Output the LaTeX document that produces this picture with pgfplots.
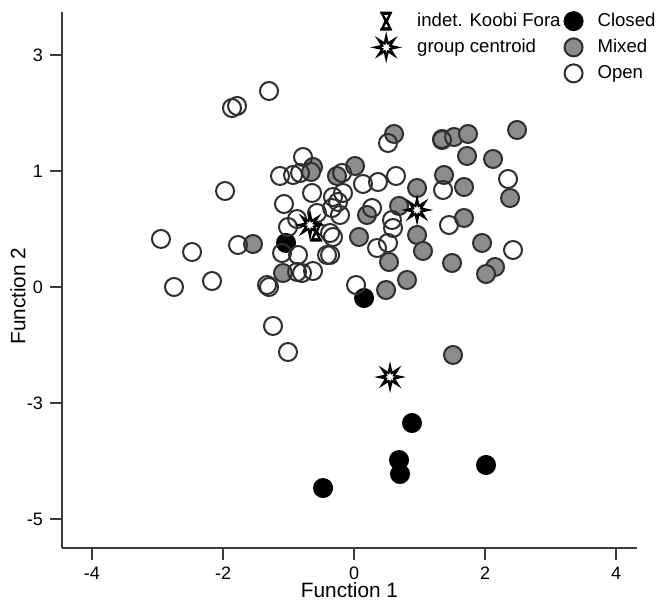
\documentclass[border=0pt]{standalone}
\usepackage{pgfplots}
\pgfplotsset{compat=1.18}
\usepackage{fontspec}
\setmainfont{Liberation Sans}
\definecolor{axisgray}{HTML}{3C3C3C}
\definecolor{mixgray}{HTML}{8C8C8C}
\definecolor{edgegray}{HTML}{2E2E2E}
\pgfdeclareplotmark{burst}{%
  \pgfpathmoveto{\pgfpointpolar{90}{8pt}}%
  \pgfpathlineto{\pgfpointpolar{112.5}{3pt}}%
  \pgfpathlineto{\pgfpointpolar{135}{8pt}}%
  \pgfpathlineto{\pgfpointpolar{157.5}{3pt}}%
  \pgfpathlineto{\pgfpointpolar{180}{8pt}}%
  \pgfpathlineto{\pgfpointpolar{202.5}{3pt}}%
  \pgfpathlineto{\pgfpointpolar{225}{8pt}}%
  \pgfpathlineto{\pgfpointpolar{247.5}{3pt}}%
  \pgfpathlineto{\pgfpointpolar{270}{8pt}}%
  \pgfpathlineto{\pgfpointpolar{292.5}{3pt}}%
  \pgfpathlineto{\pgfpointpolar{315}{8pt}}%
  \pgfpathlineto{\pgfpointpolar{337.5}{3pt}}%
  \pgfpathlineto{\pgfpointpolar{0}{8pt}}%
  \pgfpathlineto{\pgfpointpolar{22.5}{3pt}}%
  \pgfpathlineto{\pgfpointpolar{45}{8pt}}%
  \pgfpathlineto{\pgfpointpolar{67.5}{3pt}}%
  \pgfpathclose
  \pgfsetfillcolor{black}\pgfusepathqfill
  \pgfpathmoveto{\pgfpointpolar{90}{2.4pt}}%
  \pgfpathlineto{\pgfpointpolar{112.5}{1.2pt}}%
  \pgfpathlineto{\pgfpointpolar{135}{2.4pt}}%
  \pgfpathlineto{\pgfpointpolar{157.5}{1.2pt}}%
  \pgfpathlineto{\pgfpointpolar{180}{2.4pt}}%
  \pgfpathlineto{\pgfpointpolar{202.5}{1.2pt}}%
  \pgfpathlineto{\pgfpointpolar{225}{2.4pt}}%
  \pgfpathlineto{\pgfpointpolar{247.5}{1.2pt}}%
  \pgfpathlineto{\pgfpointpolar{270}{2.4pt}}%
  \pgfpathlineto{\pgfpointpolar{292.5}{1.2pt}}%
  \pgfpathlineto{\pgfpointpolar{315}{2.4pt}}%
  \pgfpathlineto{\pgfpointpolar{337.5}{1.2pt}}%
  \pgfpathlineto{\pgfpointpolar{0}{2.4pt}}%
  \pgfpathlineto{\pgfpointpolar{22.5}{1.2pt}}%
  \pgfpathlineto{\pgfpointpolar{45}{2.4pt}}%
  \pgfpathlineto{\pgfpointpolar{67.5}{1.2pt}}%
  \pgfpathclose
  \pgfsetfillcolor{white}\pgfusepathqfill
}
\pgfdeclareplotmark{hourglass}{%
  \pgfpathmoveto{\pgfpoint{-3pt}{4.8pt}}%
  \pgfpathlineto{\pgfpoint{3pt}{4.8pt}}%
  \pgfpathlineto{\pgfpoint{3pt}{3.7pt}}%
  \pgfpathlineto{\pgfpoint{2.6pt}{3.7pt}}%
  \pgfpathlineto{\pgfpoint{0.9pt}{0pt}}%
  \pgfpathlineto{\pgfpoint{2.6pt}{-3.7pt}}%
  \pgfpathlineto{\pgfpoint{3pt}{-3.7pt}}%
  \pgfpathlineto{\pgfpoint{3pt}{-4.8pt}}%
  \pgfpathlineto{\pgfpoint{-3pt}{-4.8pt}}%
  \pgfpathlineto{\pgfpoint{-3pt}{-3.7pt}}%
  \pgfpathlineto{\pgfpoint{-2.6pt}{-3.7pt}}%
  \pgfpathlineto{\pgfpoint{-0.9pt}{0pt}}%
  \pgfpathlineto{\pgfpoint{-2.6pt}{3.7pt}}%
  \pgfpathlineto{\pgfpoint{-3pt}{3.7pt}}%
  \pgfpathclose
  \pgfsetfillcolor{black}\pgfusepathqfill
  \pgfpathmoveto{\pgfpoint{-1.0pt}{3.0pt}}%
  \pgfpathlineto{\pgfpoint{1.0pt}{3.0pt}}%
  \pgfpathlineto{\pgfpoint{0pt}{1.3pt}}%
  \pgfpathclose
  \pgfpathmoveto{\pgfpoint{-1.0pt}{-3.0pt}}%
  \pgfpathlineto{\pgfpoint{1.0pt}{-3.0pt}}%
  \pgfpathlineto{\pgfpoint{0pt}{-1.3pt}}%
  \pgfpathclose
  \pgfsetfillcolor{white}\pgfusepathqfill
}
\begin{document}
\begin{tikzpicture}
\begin{axis}[
  scale only axis, width=287.5pt, height=268pt,
  xmin=-4.458, xmax=4.32, ymin=-5.5, ymax=3.741,
  axis x line*=bottom, axis y line*=left,
  axis line style={line width=1pt, color=axisgray, -},
  xtick={-4,-2,0,2,4}, xticklabels={-4,-2,0,2,4},
  ytick={3,1,-1,-3,-5}, yticklabels={3,1,0,-3,-5},
  tick align=outside, major tick length=6pt,
  tick style={line width=1pt, color=axisgray},
  tick label style={font=\fontsize{9}{10}\selectfont},
  label style={font=\fontsize{10.4}{12}\selectfont},
  xlabel={Function 1}, ylabel={Function 2},
  xlabel style={at={(axis description cs:0.5,-0.078)}, anchor=center},
  ylabel style={at={(axis description cs:-0.0765,0.47)}, anchor=center},
  clip=false,
  legend columns=2,
  legend cell align=left,
  legend style={draw=none, fill=none, at={(axis description cs:0.523,1.014)}, anchor=north west,
    font=\fontsize{9.3}{11}\selectfont, row sep=-1pt,
    /tikz/every odd column/.append style={column sep=5.5pt},
    /tikz/every even column/.append style={column sep=0pt}},
]
\addplot[only marks, forget plot, mark=*, mark size=4.5pt,
  mark options={fill=mixgray, draw=edgegray, line width=1pt}] table {
-1.542 -0.259
-1.084 -0.759
-0.626 1.069
-0.656 0.983
-0.260 0.914
0.015 1.086
0.076 -0.138
0.198 0.241
0.611 1.638
0.687 0.397
0.962 0.707
0.962 -0.103
1.053 -0.379
0.534 -0.569
0.489 -1.052
0.809 -0.879
1.344 1.552
1.527 1.586
1.740 1.638
1.725 1.259
2.122 1.207
2.489 1.707
2.382 0.534
1.374 0.931
1.679 0.724
1.679 0.190
1.954 -0.241
1.496 -0.586
2.153 -0.655
2.015 -0.776
1.511 -2.172
};
\addplot[only marks, forget plot, mark=*, mark size=4.5pt,
  mark options={fill=black, draw=black, line width=1pt}] table {
-1.038 -0.241
0.153 -1.190
0.885 -3.345
0.687 -3.983
0.702 -4.224
2.015 -4.069
-0.473 -4.466
};
\addplot[only marks, forget plot, mark=o, mark size=4.5pt,
  mark options={draw=edgegray, line width=1pt}] table {
-2.947 -0.172
-2.473 -0.397
-2.748 -1.000
-2.168 -0.897
-1.969 0.655
-1.863 2.086
-1.786 2.121
-1.298 2.379
-1.771 -0.276
-1.328 -0.966
-1.298 -1.000
-1.237 -1.672
-1.008 -2.121
-1.130 0.914
-0.779 1.241
-0.931 0.931
-0.824 0.966
-1.069 0.431
-0.641 0.621
-0.183 0.966
-0.321 0.552
-0.244 0.466
-0.168 0.621
-0.336 0.362
-0.214 0.241
-0.870 0.172
-1.099 -0.414
-1.008 0.034
-0.855 -0.448
-0.870 -0.741
-0.794 -0.759
-0.626 -0.724
-0.412 -0.448
-0.366 -0.448
-0.565 0.276
-0.366 -0.069
-0.321 -0.138
0.031 -0.966
0.137 0.776
0.366 0.810
0.641 0.914
0.519 1.483
0.275 0.362
0.580 0.155
0.595 0.017
0.351 -0.328
0.519 -0.241
1.359 0.672
1.450 0.069
1.344 1.534
2.351 0.862
2.427 -0.362
};
\addplot[only marks, forget plot, mark=hourglass] table {
-0.580 -0.052
};
\addplot[only marks, forget plot, mark=burst] table {
-0.672 0.069
0.962 0.328
0.550 -2.552
};
\addlegendimage{only marks, mark=hourglass}
\addlegendentry{indet. Koobi Fora}
\addlegendimage{only marks, mark=*, mark size=4.5pt, mark options={fill=black, draw=black, line width=1pt}}
\addlegendentry{Closed}
\addlegendimage{only marks, mark=burst}
\addlegendentry{group centroid}
\addlegendimage{only marks, mark=*, mark size=4.5pt, mark options={fill=mixgray, draw=edgegray, line width=1pt}}
\addlegendentry{Mixed}
\addlegendimage{empty legend}
\addlegendentry{}
\addlegendimage{only marks, mark=o, mark size=4.5pt, mark options={draw=edgegray, line width=1pt}}
\addlegendentry{Open}
\end{axis}
\path[use as bounding box] (-31pt,-26pt) rectangle (303pt,274pt);
\end{tikzpicture}
\end{document}
